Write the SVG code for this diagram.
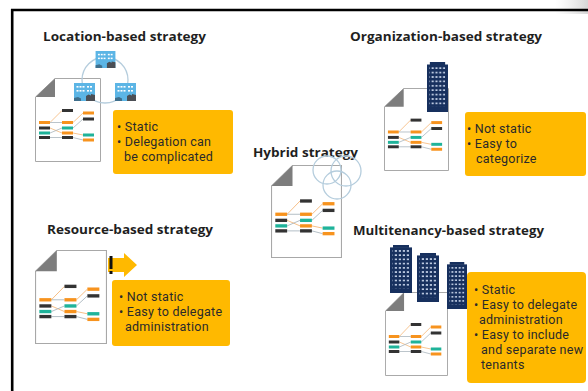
<svg xmlns="http://www.w3.org/2000/svg" xmlns:xlink="http://www.w3.org/1999/xlink" width="588" height="391" viewBox="0 0 588 391">
  <style>
    .title { font-family: "Open Sans", "Noto Sans", "Liberation Sans", sans-serif; font-weight: 700; font-size: 13px; fill: #1f1f1f; }
    .body { font-family: Roboto, "Liberation Sans", sans-serif; font-size: 12.5px; letter-spacing: 0.25px; fill: #2a2a2a; }
    .note { fill: #ffb900; }
    .ob { fill: #f7931e; }
    .tb { fill: #1fb39a; }
    .kb { fill: #333333; }
    .lo { stroke: #f5b676; stroke-width: 0.8; fill: none; }
    .lg { stroke: #a9b5bd; stroke-width: 0.8; fill: none; }
    .ring { fill: none; stroke: #b5cddd; stroke-width: 1.3; }
  </style>
  <defs>
    <!-- page with folded corner and a small network of bars -->
    <symbol id="doc" viewBox="0 0 66 84" preserveAspectRatio="none">
      <path d="M20 0.5 H65.5 V83.5 H0.5 V19 Z" fill="#ffffff" stroke="#a8a8a8" stroke-width="1"/>
      <path d="M0.5 19 L20 0.5 V19 Z" fill="#7d7d7d"/>
      <path class="lo" d="M15 44.5 L27 32.5"/>
      <path class="lg" d="M15 44.5 L27 44.5"/>
      <path class="lo" d="M15 50 L27 55"/>
      <path class="lg" d="M15 55 L27 50"/>
      <path class="lg" d="M15 59.5 L27 59.5"/>
      <path class="lo" d="M38 44.5 L48 35"/>
      <path class="lg" d="M38 50 L48 41"/>
      <path class="lo" d="M38 55 L48 57"/>
      <path class="lg" d="M38 59.5 L48 62"/>
      <rect class="ob" x="4" y="43" width="11" height="3"/>
      <rect class="kb" x="4" y="48.5" width="11" height="3"/>
      <rect class="tb" x="4" y="53.5" width="11" height="3"/>
      <rect class="kb" x="4" y="58" width="11" height="3"/>
      <rect class="kb" x="27" y="31" width="11" height="3"/>
      <rect class="ob" x="27" y="43" width="11" height="3"/>
      <rect class="tb" x="27" y="48.5" width="11" height="3"/>
      <rect class="ob" x="27" y="53.5" width="11" height="3"/>
      <rect class="kb" x="27" y="58" width="11" height="3"/>
      <rect class="ob" x="48" y="33.5" width="11" height="3"/>
      <rect class="kb" x="48" y="39.5" width="11" height="3"/>
      <rect class="tb" x="48" y="55.5" width="11" height="3"/>
      <rect class="ob" x="48" y="60.5" width="11" height="3"/>
    </symbol>
    <!-- navy office tower -->
    <pattern id="win" x="0" y="0" width="4" height="4.4" patternUnits="userSpaceOnUse">
      <rect x="0.8" y="1" width="2.2" height="1.6" fill="#c9d6ea"/>
    </pattern>
    <symbol id="tower" viewBox="0 0 22 50" preserveAspectRatio="none">
      <rect x="3" y="0" width="16" height="3" fill="#17305e"/>
      <rect x="0" y="2.5" width="22" height="47.5" fill="#17305e"/>
      <rect x="2.6" y="5" width="16.5" height="40" fill="url(#win)"/>
    </symbol>
    <!-- small light-blue site tile -->
    <symbol id="site" viewBox="0 0 21 18">
      <rect x="0" y="0" width="21" height="18" fill="#5cb5e5"/>
      <g fill="#ffffff">
        <rect x="2.5" y="3" width="2" height="1.6"/><rect x="5.5" y="3" width="2" height="1.6"/><rect x="8.5" y="3" width="2" height="1.6"/>
        <rect x="13" y="3" width="2" height="1.6"/><rect x="16" y="3" width="2" height="1.6"/>
        <rect x="2.5" y="7" width="2" height="1.6"/><rect x="5.5" y="7" width="2" height="1.6"/><rect x="8.5" y="7" width="2" height="1.6"/>
        <rect x="13" y="7" width="2" height="1.6"/><rect x="16" y="7" width="2" height="1.6"/>
      </g>
      <path d="M12 18 V13 L14.5 11.5 L17 12.5 V11 L21 12 V18 Z" fill="#4b4f55"/>
      <path d="M0 18 V15 L4 14 L7 15.5 V18 Z" fill="#3f6f8c"/>
    </symbol>
    <linearGradient id="corner" x1="0" y1="0" x2="1" y2="0">
      <stop offset="0" stop-color="#e4e4e4" stop-opacity="0"/>
      <stop offset="1" stop-color="#d6d6d6"/>
    </linearGradient>
  </defs>

  <rect width="588" height="391" fill="#ffffff"/>
  <rect x="555" y="0" width="33" height="14" fill="url(#corner)"/>
  <!-- frame -->
  <path d="M12.2 391 V10 H588" fill="none" stroke="#000000" stroke-width="2.6"/>

  <g id="location">
    <text class="title" x="43" y="41" textLength="163" lengthAdjust="spacingAndGlyphs">Location-based strategy</text>
    <use href="#doc" x="35" y="78" width="66" height="84"/>
    <circle class="ring" cx="105" cy="80" r="23"/>
    <use href="#site" x="95" y="51" width="21" height="17"/>
    <use href="#site" x="74" y="83" width="21" height="18"/>
    <use href="#site" x="115" y="83" width="21" height="18"/>
    <rect class="note" x="113" y="110" width="120" height="64" rx="3"/>
    <text class="body"><tspan x="117" y="131">• Static</tspan><tspan x="117" y="146">• Delegation can</tspan><tspan x="124" y="161">be complicated</tspan></text>
  </g>

  <g id="organization">
    <text class="title" x="350" y="41" textLength="192" lengthAdjust="spacingAndGlyphs">Organization-based strategy</text>
    <use href="#doc" x="384" y="88" width="65" height="83"/>
    <use href="#tower" x="427" y="62" width="21" height="50"/>
    <rect class="note" x="465" y="112" width="121" height="64" rx="3"/>
    <text class="body"><tspan x="467" y="133">• Not static</tspan><tspan x="467" y="148">• Easy to</tspan><tspan x="476" y="163">categorize</tspan></text>
  </g>

  <g id="hybrid">
    <text class="title" x="253" y="157" textLength="105" lengthAdjust="spacingAndGlyphs">Hybrid strategy</text>
    <use href="#doc" x="271" y="165" width="71" height="93"/>
    <circle class="ring" cx="327" cy="170" r="14"/>
    <circle class="ring" cx="346" cy="171" r="15"/>
    <circle class="ring" cx="337" cy="185" r="14"/>
  </g>

  <g id="resource">
    <text class="title" x="47" y="234" textLength="166" lengthAdjust="spacingAndGlyphs">Resource-based strategy</text>
    <use href="#doc" x="35" y="250" width="72" height="94"/>
    <path d="M108 258 H124 V253 L137 265 L124 277 V272 H108 Z" fill="#ffb900"/>
    <rect x="109.5" y="256" width="3" height="13" fill="#111111"/>
    <rect x="109.5" y="271" width="3" height="3" fill="#111111"/>
    <rect class="note" x="112" y="280" width="118" height="66" rx="3"/>
    <text class="body"><tspan x="119" y="301">• Not static</tspan><tspan x="119" y="316">• Easy to delegate</tspan><tspan x="125" y="331">administration</tspan></text>
  </g>

  <g id="multitenancy">
    <text class="title" x="353" y="235" textLength="191" lengthAdjust="spacingAndGlyphs">Multitenancy-based strategy</text>
    <use href="#doc" x="385" y="292" width="63" height="84"/>
    <use href="#tower" x="390" y="245" width="22" height="48"/>
    <use href="#tower" x="417" y="253" width="22" height="49"/>
    <use href="#tower" x="447" y="262" width="20" height="47"/>
    <rect class="note" x="467" y="272" width="119" height="111" rx="4"/>
    <text class="body"><tspan x="474" y="294">• Static</tspan><tspan x="474" y="309">• Easy to delegate</tspan><tspan x="479" y="324">administration</tspan><tspan x="474" y="339">• Easy to include</tspan><tspan x="481" y="354">and separate new</tspan><tspan x="481" y="369">tenants</tspan></text>
  </g>
</svg>
